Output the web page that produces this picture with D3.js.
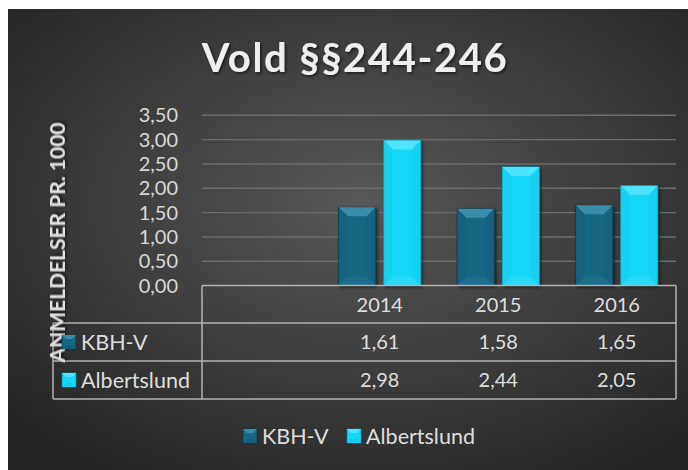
<!DOCTYPE html>
<html lang="da">
<head>
  <meta charset="UTF-8">
  <title>Vold §§244-246</title>
  <script src="https://d3js.org/d3.v7.min.js"></script>
  <style>
    body { margin: 0; background: #fff; }
    svg { display: block; }
    text { font-family: Lato, "Open Sans", sans-serif; fill: #dedede; }
  </style>
</head>
<body>
  <svg width="688" height="470"></svg>

  <script>
    // data
    const categories = ["", "2014", "2015", "2016"];
    const seriesNames = ["KBH-V", "Albertslund"];
    const kbhV = [null, 1.61, 1.58, 1.65];
    const albertslund = [null, 2.98, 2.44, 2.05];
    const yTicks = [0, 0.5, 1, 1.5, 2, 2.5, 3, 3.5];

    const seriesColors = {
      "KBH-V": {base: "#166684", top: "#3a8ea9", bottom: "#1a6e8a", side: "#135f7b", edge: "#07323f"},
      "Albertslund": {base: "#15d7f7", top: "#4fe3ff", bottom: "#2ad9f7", side: "#14cdee", edge: "#0b8aa6"}
    };

    const da = d3.formatLocale({decimal: ",", thousands: ".", grouping: [3], currency: ["", " kr"]});
    const fmt = da.format(".2f");

    const svg = d3.select("svg");
    const defs = svg.append("defs");

    const bg = defs.append("radialGradient").attr("id", "bg")
      .attr("cx", "52%").attr("cy", "42%").attr("r", "72%");
    bg.append("stop").attr("offset", "0%").attr("stop-color", "#585858");
    bg.append("stop").attr("offset", "100%").attr("stop-color", "#232323");

    const shadow = defs.append("filter").attr("id", "shadow")
      .attr("x", "-20%").attr("y", "-20%").attr("width", "150%").attr("height", "150%");
    shadow.append("feDropShadow").attr("dx", 1.5).attr("dy", 1.5)
      .attr("stdDeviation", 1.5).attr("flood-color", "#000").attr("flood-opacity", 0.6);

    // chart area
    svg.append("rect")
      .attr("x", 8).attr("y", 9).attr("width", 680).attr("height", 461)
      .attr("fill", "url(#bg)");

    const plot = {left: 202, right: 676, top: 115.3, bottom: 285.6};
    const table = {left: 53, rows: [285.6, 323, 361, 399]};

    const x = d3.scaleBand().domain(categories).range([plot.left, plot.right]);
    const x1 = d3.scaleBand().domain(seriesNames).range([0, x.bandwidth()])
      .paddingInner(0.178).paddingOuter(0.405);
    const y = d3.scaleLinear().domain([0, 3.5]).range([plot.bottom, plot.top]);

    // title
    svg.append("text")
      .attr("x", 355).attr("y", 72)
      .attr("text-anchor", "middle")
      .attr("font-size", 40).attr("font-weight", 700)
      .attr("letter-spacing", 1.6)
      .attr("filter", "url(#shadow)")
      .style("fill", "#efefef")
      .text("Vold §§244-246");

    // gridlines
    svg.append("g").selectAll("line")
      .data(yTicks.slice(1))
      .join("line")
        .attr("x1", plot.left).attr("x2", plot.right)
        .attr("y1", d => y(d)).attr("y2", d => y(d))
        .attr("stroke", "#6c6c6c").attr("stroke-width", 1.4);

    // y axis labels
    const yAxis = svg.append("g")
      .attr("transform", `translate(${plot.left},0)`)
      .call(d3.axisLeft(y).tickValues(yTicks).tickFormat(fmt).tickSize(0).tickPadding(24));
    yAxis.select(".domain").remove();
    yAxis.selectAll("text")
      .attr("font-size", 20)
      .style("font-family", "Lato, sans-serif")
      .style("fill", "#d8d8d8");

    // bars
    const rows = [];
    seriesNames.forEach((s, si) => {
      const vals = si === 0 ? kbhV : albertslund;
      categories.forEach((c, ci) => {
        if (vals[ci] != null) rows.push({series: s, cat: c, value: vals[ci]});
      });
    });

    const bars = svg.append("g").selectAll("g")
      .data(rows)
      .join("g")
        .attr("filter", "url(#shadow)");

    bars.each(function(d) {
      const g = d3.select(this);
      const col = seriesColors[d.series];
      const x0 = x(d.cat) + x1(d.series), x2 = x0 + x1.bandwidth();
      const y0 = y(d.value), y2 = y(0);
      const b = 9;
      g.append("rect")
        .attr("x", x0).attr("y", y0)
        .attr("width", x2 - x0).attr("height", y2 - y0)
        .attr("fill", col.base)
        .attr("stroke", col.edge).attr("stroke-width", 0.8);
      g.append("polygon")
        .attr("points", [[x0, y0], [x2, y0], [x2 - b, y0 + b], [x0 + b, y0 + b]].join(" "))
        .attr("fill", col.top);
      g.append("polygon")
        .attr("points", [[x0, y0], [x0 + b, y0 + b], [x0 + b, y2 - b], [x0, y2]].join(" "))
        .attr("fill", col.side).attr("opacity", 0.6);
      g.append("polygon")
        .attr("points", [[x2, y0], [x2 - b, y0 + b], [x2 - b, y2 - b], [x2, y2]].join(" "))
        .attr("fill", col.side).attr("opacity", 0.6);
      g.append("polygon")
        .attr("points", [[x0, y2], [x2, y2], [x2 - b, y2 - b], [x0 + b, y2 - b]].join(" "))
        .attr("fill", col.bottom);
    });

    // data table
    const lineColor = "#b4b4b4";
    const tg = svg.append("g").attr("stroke", lineColor).attr("stroke-width", 1.5).attr("fill", "none");
    tg.append("line").attr("x1", plot.left).attr("x2", plot.right)
      .attr("y1", table.rows[0]).attr("y2", table.rows[0]);
    table.rows.slice(1).forEach(r => {
      tg.append("line").attr("x1", table.left).attr("x2", plot.right).attr("y1", r).attr("y2", r);
    });
    tg.append("line").attr("x1", plot.left).attr("x2", plot.left)
      .attr("y1", table.rows[0]).attr("y2", table.rows[3]);
    tg.append("line").attr("x1", plot.right).attr("x2", plot.right)
      .attr("y1", table.rows[0]).attr("y2", table.rows[3]);
    tg.append("line").attr("x1", table.left).attr("x2", table.left)
      .attr("y1", table.rows[1]).attr("y2", table.rows[3]);

    const rowMid = i => (table.rows[i] + table.rows[i + 1]) / 2;

    // header years
    svg.append("g").selectAll("text")
      .data(categories)
      .join("text")
        .attr("x", d => x(d) + x.bandwidth() / 2)
        .attr("y", rowMid(0))
        .attr("dy", "0.36em")
        .attr("text-anchor", "middle")
        .attr("font-size", 20)
        .text(d => d);

    // value rows
    [kbhV, albertslund].forEach((vals, si) => {
      svg.append("g").selectAll("text")
        .data(categories)
        .join("text")
          .attr("x", d => x(d) + x.bandwidth() / 2)
          .attr("y", rowMid(si + 1))
          .attr("dy", "0.36em")
          .attr("text-anchor", "middle")
          .attr("font-size", 20)
          .text((d, i) => vals[i] == null ? "" : fmt(vals[i]));
    });

    // y axis title
    svg.append("text")
      .attr("transform", "translate(65,242.5) rotate(-90)")
      .attr("text-anchor", "middle")
      .attr("font-size", 21).attr("font-weight", 700)
      .attr("filter", "url(#shadow)")
      .style("fill", "#e0e0e0")
      .text("ANMELDELSER PR. 1000");

    // legend keys
    function key(g, s, kx, ky) {
      const col = seriesColors[s];
      const k = 14, b = 4;
      g.append("rect").attr("x", kx).attr("y", ky).attr("width", k).attr("height", k)
        .attr("fill", col.base).attr("stroke", col.edge).attr("stroke-width", 0.6);
      g.append("polygon")
        .attr("points", [[kx, ky], [kx + k, ky], [kx + k - b, ky + b], [kx + b, ky + b]].join(" "))
        .attr("fill", col.top);
      g.append("polygon")
        .attr("points", [[kx, ky + k], [kx + k, ky + k], [kx + k - b, ky + k - b], [kx + b, ky + k - b]].join(" "))
        .attr("fill", col.side);
    }

    // table row labels
    seriesNames.forEach((s, si) => {
      const g = svg.append("g");
      key(g, s, 62, rowMid(si + 1) - 7);
      g.append("text")
        .attr("x", 81).attr("y", rowMid(si + 1)).attr("dy", "0.36em")
        .attr("font-size", 21.5)
        .text(s);
    });

    // bottom legend
    const legendX = [243, 347];
    seriesNames.forEach((s, si) => {
      const g = svg.append("g");
      key(g, s, legendX[si], 429);
      g.append("text")
        .attr("x", legendX[si] + 19).attr("y", 436).attr("dy", "0.36em")
        .attr("font-size", 21.5)
        .text(s);
    });
  </script>
</body>
</html>
